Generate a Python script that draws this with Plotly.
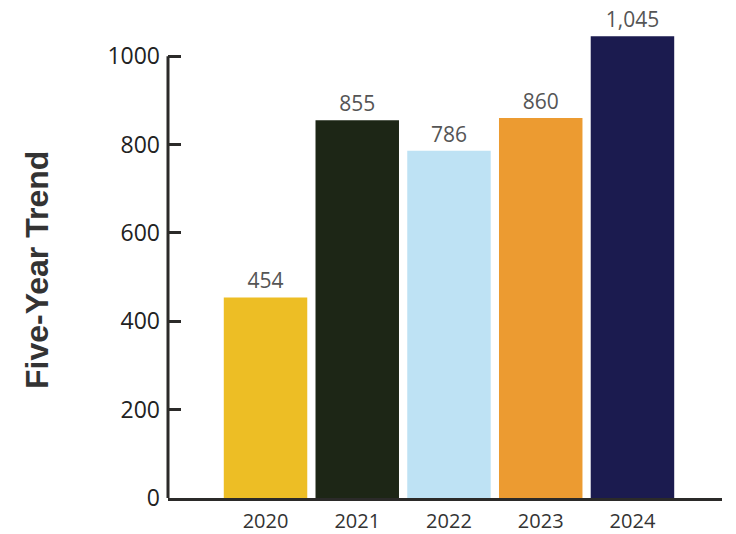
import plotly.graph_objects as go

years = ["2020", "2021", "2022", "2023", "2024"]
values = [454, 855, 786, 860, 1045]
colors = ["#EDBE25", "#1D2616", "#BEE2F4", "#EC9B31", "#1B1B4F"]
y_ticks = [0, 200, 400, 600, 800, 1000]
title_text = "Five-Year Trend"

fig = go.Figure()
fig.add_trace(go.Bar(
    x=years, y=values,
    marker=dict(color=colors, line=dict(width=0)),
    texttemplate="%{y:,}",
    textposition="outside",
    textfont=dict(family="Open Sans, sans-serif", size=21, color="#555555"),
    cliponaxis=False,
    width=0.91,
))

fig.update_layout(
    width=736, height=534,
    margin=dict(l=168, r=14, t=12, b=36),
    paper_bgcolor="white", plot_bgcolor="white",
    showlegend=False,
    xaxis=dict(
        type="category",
        range=[-1.063, 4.976],
        automargin=False,
        showline=True, linecolor="#2b2a29", linewidth=3,
        ticks="", showgrid=False,
        tickfont=dict(family="Open Sans, sans-serif", size=20, color="#333333"),
        ticklabelstandoff=3,
    ),
    yaxis=dict(
        range=[0, 1100],
        automargin=False,
        tickvals=y_ticks,
        tickformat="d",
        showline=False, showgrid=False, zeroline=False,
        ticks="inside", ticklen=13, tickwidth=3, tickcolor="#2b2a29",
        tickfont=dict(family="Open Sans, sans-serif", size=23, color="#222222"),
        ticklabelstandoff=7,
    ),
    shapes=[dict(
        type="line", xref="paper", yref="y",
        x0=0, x1=0, y0=0, y1=1000,
        line=dict(color="#2b2a29", width=3),
    )],
    annotations=[dict(
        text="<b>" + title_text + "</b>",
        xref="paper", yref="paper",
        x=-0.2365, y=0.469,
        textangle=-90, showarrow=False,
        font=dict(family="Liberation Sans, Arial, sans-serif", size=32, color="#333333"),
        xanchor="center", yanchor="middle",
    )],
)

fig.write_html("out.html", config={"displayModeBar": False},
               post_script="document.body.style.margin='0';")
